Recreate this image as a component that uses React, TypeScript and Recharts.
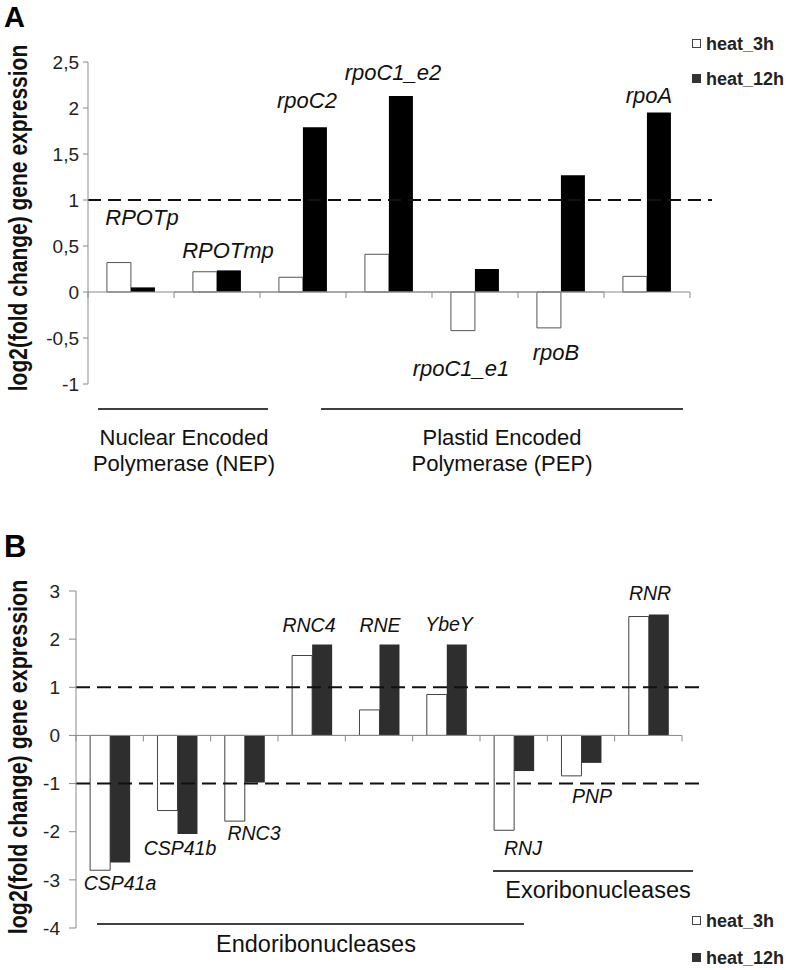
import React from 'react';
import { BarChart, Bar, XAxis, YAxis, ReferenceLine } from 'recharts';

// ---------- Data ----------
const genesA = ['RPOTp', 'RPOTmp', 'rpoC2', 'rpoC1_e2', 'rpoC1_e1', 'rpoB', 'rpoA'];
const heat3hA = [0.32, 0.22, 0.16, 0.41, -0.42, -0.39, 0.17];
const heat12hA = [0.05, 0.235, 1.79, 2.13, 0.25, 1.27, 1.95];
const ticksA = [-1, -0.5, 0, 0.5, 1, 1.5, 2, 2.5];

const genesB = ['CSP41a', 'CSP41b', 'RNC3', 'RNC4', 'RNE', 'YbeY', 'RNJ', 'PNP', 'RNR'];
const heat3hB = [-2.8, -1.56, -1.78, 1.66, 0.53, 0.85, -1.97, -0.84, 2.47];
const heat12hB = [-2.64, -2.05, -0.98, 1.89, 1.89, 1.89, -0.74, -0.57, 2.51];
const ticksB = [-4, -3, -2, -1, 0, 1, 2, 3];

const seriesNames = ['heat_3h', 'heat_12h'];
const yTitle = 'log2(fold change) gene expression';
const groupsA = [['Nuclear Encoded', 'Polymerase (NEP)'], ['Plastid Encoded', 'Polymerase (PEP)']];
const groupsB = ['Endoribonucleases', 'Exoribonucleases'];

const dataA = genesA.map((g, i) => ({ gene: g, h3: heat3hA[i], h12: heat12hA[i] }));
const dataB = genesB.map((g, i) => ({ gene: g, h3: heat3hB[i], h12: heat12hB[i] }));

// ---------- Styles / annotation layout ----------
const FONT = '"Liberation Sans", Arial, sans-serif';
const AXIS = '#8a8a8a';

const labelPosA = [
  [142, 217], [228, 250], [307, 100], [393, 72], [461, 368], [556, 352], [649, 95],
];
const labelPosB = [
  [120, 883], [180, 848], [254, 833], [309, 625], [380, 625], [449, 624], [523, 848], [592, 796], [650, 593],
];

const fmt = (v: number) => String(v).replace('.', ',');

const tickShape = (len: number) => (p: any) => (
  <line x1={p.x1} y1={p.y1} x2={p.x1} y2={p.y1 + len} stroke={AXIS} strokeWidth={1} />
);

function zeroAxis(genes: string[], tickLen: number) {
  const first = genes[0];
  const last = genes[genes.length - 1];
  const els: any[] = [];
  els.push(
    <ReferenceLine key="z1" segment={[{ x: first, y: 0 }, { x: last, y: 0 }]} position="start" stroke={AXIS} strokeWidth={1} ifOverflow="visible" />
  );
  els.push(
    <ReferenceLine key="z2" segment={[{ x: first, y: 0 }, { x: last, y: 0 }]} position="end" stroke={AXIS} strokeWidth={1} ifOverflow="visible" />
  );
  genes.forEach((g) => {
    els.push(
      <ReferenceLine key={'t' + g} segment={[{ x: g, y: 0 }, { x: g, y: 0 }]} position="start" ifOverflow="visible" shape={tickShape(tickLen)} />
    );
  });
  els.push(
    <ReferenceLine key="tend" segment={[{ x: last, y: 0 }, { x: last, y: 0 }]} position="end" ifOverflow="visible" shape={tickShape(tickLen)} />
  );
  return els;
}

export default function App() {
  return (
    <div style={{ position: 'absolute', left: 0, top: 0, width: 789, height: 970, background: '#fff', fontFamily: FONT }}>
      {/* Panel A */}
      <div style={{ position: 'absolute', left: 0, top: 0 }}>
        <BarChart width={789} height={970} data={dataA} margin={{ top: 62, right: 77, bottom: 586, left: 0 }} barCategoryGap="22%" barGap={0}>
          <XAxis dataKey="gene" hide padding={{ left: 0, right: 22 }} />
          <YAxis
            width={88}
            domain={[-1, 2.5]}
            ticks={ticksA}
            interval={0}
            tickFormatter={fmt}
            tick={{ fontSize: 19, fill: '#222', fontFamily: FONT }}
            tickSize={5}
            tickMargin={4}
            axisLine={{ stroke: AXIS }}
            tickLine={{ stroke: AXIS }}
          />
          <Bar dataKey="h3" name={seriesNames[0]} fill="#ffffff" stroke="#555" strokeWidth={1} isAnimationActive={false} />
          <Bar dataKey="h12" name={seriesNames[1]} fill="#000000" isAnimationActive={false} />
          {zeroAxis(genesA, 6)}
          <ReferenceLine y={1} stroke="#111" strokeWidth={2} strokeDasharray="13 7" />
        </BarChart>
      </div>

      {/* Panel B */}
      <div style={{ position: 'absolute', left: 0, top: 0 }}>
        <BarChart width={789} height={970} data={dataB} margin={{ top: 591, right: 84, bottom: 42, left: 0 }} barCategoryGap="21%" barGap={0}>
          <XAxis dataKey="gene" hide padding={{ left: 0, right: 23 }} />
          <YAxis
            width={76}
            domain={[-4, 3]}
            ticks={ticksB}
            interval={0}
            tick={{ fontSize: 19, fill: '#222', fontFamily: FONT }}
            tickSize={7}
            tickMargin={9}
            axisLine={{ stroke: AXIS }}
            tickLine={{ stroke: AXIS }}
          />
          <Bar dataKey="h3" name={seriesNames[0]} fill="#ffffff" stroke="#444" strokeWidth={1} isAnimationActive={false} />
          <Bar dataKey="h12" name={seriesNames[1]} fill="#2e2e2e" isAnimationActive={false} />
          {zeroAxis(genesB, 6)}
          <ReferenceLine y={1} stroke="#111" strokeWidth={2} strokeDasharray="14 7" />
          <ReferenceLine y={-1} stroke="#111" strokeWidth={2} strokeDasharray="14 7" />
        </BarChart>
      </div>

      {/* Annotations overlay */}
      <svg width={789} height={970} style={{ position: 'absolute', left: 0, top: 0, pointerEvents: 'none' }} fontFamily={FONT}>
        <text x={4} y={27} fontSize={29} fontWeight="bold" fill="#000">A</text>
        <text x={4} y={557} fontSize={31} fontWeight="bold" fill="#000">B</text>

        <text transform="translate(27,218) rotate(-90) scale(1,1.2)" textAnchor="middle" fontSize={21} fontWeight="bold" fill="#111">{yTitle}</text>
        <text transform="translate(27,757) rotate(-90) scale(1,1.2)" textAnchor="middle" fontSize={21.5} fontWeight="bold" fill="#111">{yTitle}</text>

        {genesA.map((g, i) => (
          <text key={g} x={labelPosA[i][0]} y={labelPosA[i][1]} textAnchor="middle" dominantBaseline="central" fontSize={22} fontStyle="italic" fill="#111">{g}</text>
        ))}
        {genesB.map((g, i) => (
          <text key={g} x={labelPosB[i][0]} y={labelPosB[i][1]} textAnchor="middle" dominantBaseline="central" fontSize={19.5} fontStyle="italic" fill="#111">{g}</text>
        ))}

        {/* group lines A */}
        <line x1={98} y1={409} x2={268} y2={409} stroke="#000" strokeWidth={1.5} />
        <line x1={321} y1={409} x2={683} y2={409} stroke="#000" strokeWidth={1.5} />
        <text x={184} y={437} textAnchor="middle" dominantBaseline="central" fontSize={22} fill="#111">{groupsA[0][0]}</text>
        <text x={184} y={463} textAnchor="middle" dominantBaseline="central" fontSize={22} fill="#111">{groupsA[0][1]}</text>
        <text x={502} y={437} textAnchor="middle" dominantBaseline="central" fontSize={22} fill="#111">{groupsA[1][0]}</text>
        <text x={502} y={463} textAnchor="middle" dominantBaseline="central" fontSize={22} fill="#111">{groupsA[1][1]}</text>

        {/* group lines B */}
        <line x1={97} y1={924} x2={524} y2={924} stroke="#000" strokeWidth={1.5} />
        <line x1={493} y1={871} x2={693} y2={871} stroke="#000" strokeWidth={1.5} />
        <text x={316} y={944} textAnchor="middle" dominantBaseline="central" fontSize={23.5} fill="#111">{groupsB[0]}</text>
        <text x={598} y={890} textAnchor="middle" dominantBaseline="central" fontSize={23.5} fill="#111">{groupsB[1]}</text>

        {/* legend A */}
        <rect x={692.5} y={39.5} width={8} height={8} fill="#fff" stroke="#444" />
        <rect x={692} y={74} width={9} height={9} fill="#333" />
        <text x={706} y={44} dominantBaseline="central" fontSize={18} fontWeight="bold" fill="#222">{seriesNames[0]}</text>
        <text x={706} y={79} dominantBaseline="central" fontSize={18} fontWeight="bold" fill="#222">{seriesNames[1]}</text>

        {/* legend B */}
        <rect x={692.5} y={916.5} width={8} height={8} fill="#fff" stroke="#444" />
        <rect x={692} y={953} width={9} height={9} fill="#333" />
        <text x={706} y={921} dominantBaseline="central" fontSize={18} fontWeight="bold" fill="#222">{seriesNames[0]}</text>
        <text x={706} y={958} dominantBaseline="central" fontSize={18} fontWeight="bold" fill="#222">{seriesNames[1]}</text>
      </svg>
    </div>
  );
}
